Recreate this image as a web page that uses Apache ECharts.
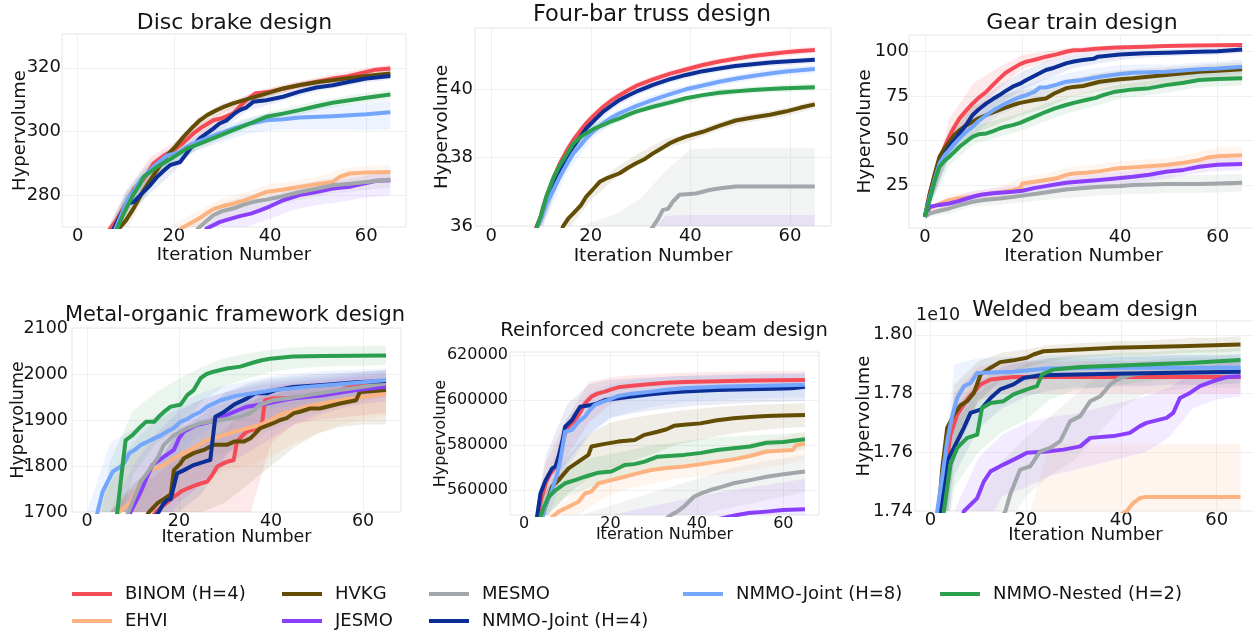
<!DOCTYPE html>
<html><head><meta charset="utf-8">
<script src="https://cdn.jsdelivr.net/npm/echarts@6/dist/echarts.min.js"></script>
<style>html,body{margin:0;padding:0;background:#fff}#c{width:1253px;height:638px}</style>
</head><body><div id="c"></div>
<script>
// ---------------- DATA ----------------
const methods = ['BINOM (H=4)', 'EHVI', 'HVKG', 'JESMO', 'MESMO', 'NMMO-Joint (H=4)', 'NMMO-Joint (H=8)', 'NMMO-Nested (H=2)'];
const titles = ['Disc brake design', 'Four-bar truss design', 'Gear train design', 'Metal-organic framework design', 'Reinforced concrete beam design', 'Welded beam design'];
const xTicks = [0, 20, 40, 60];
const yTicksDisc = [280, 300, 320];
const yTicksTruss = [36, 38, 40];
const yTicksGear = [25, 50, 75, 100];
const yTicksMof = [1700, 1800, 1900, 2000, 2100];
const yTicksRc = [560000, 580000, 600000, 620000];
const yTicksWeld = [1.74, 1.76, 1.78, 1.80];
const bandX = [0, 5, 10, 15, 20, 25, 30, 35, 40, 45, 50, 55, 60, 65];

// Disc brake
const disc_BINOM = [[0,225],[6.5,269],[8,272],[9.6,276.3],[11.7,282],[13.7,285],[15.8,290],[18,292.5],[20,294.1],[22,296.5],[24,299.3],[26,301.5],[28.2,303.5],[30,304.2],[32.3,305.6],[35,309.8],[37,312],[40,312.5],[43,313.5],[46,314.5],[50,315.7],[53,316.6],[56,317.3],[60,318.7],[62,319.4],[65,319.8]];
const disc_EHVI = [[0,200],[21.5,269.5],[23,270.8],[25.4,272.8],[27,274.5],[28.2,275.6],[30,276.5],[32.3,277.3],[34.5,278.3],[36.5,279.4],[39.2,281],[42.5,281.7],[46.1,282.6],[50,283.5],[53,284.1],[54.4,285.7],[56.5,286.8],[60,287.1],[65,287.3]];
const disc_HVKG = [[0,215],[8.6,269.5],[10,272],[11.7,276],[13.5,281],[15.1,284.7],[17,289],[18.6,292.5],[20.3,295.2],[22,298.3],[24,301.5],[25.4,303.5],[27,305.2],[28.9,306.7],[30.5,307.8],[32.3,308.8],[35.8,310.4],[39.2,311.9],[42.7,313.5],[46,314.5],[50,315.5],[53,316.1],[56.5,316.8],[60,317.4],[65,318.2]];
const disc_JESMO = [[0,190],[26.8,269.5],[29.6,271.6],[33.7,273.4],[36,274.2],[37.9,275.2],[40,276.5],[42.7,278.4],[46.1,280],[49.6,281],[53,282.1],[56.5,282.6],[58,283.2],[60,283.8],[62,284.5],[65,284.7]];
const disc_MESMO = [[0,195],[25,269.5],[26.5,271.5],[28.2,273.7],[30,275],[32.3,275.8],[34.5,277],[36.5,277.9],[39.2,278.6],[42.5,279.6],[46.1,281],[49.6,282],[53,283.1],[56.5,283.6],[60,284.1],[65,284.9]];
const disc_NJ4 = [[0,228],[7.5,269.5],[9,274],[10.3,277.3],[11.7,277.9],[13.7,281],[15,283],[16.5,285.7],[18,287.8],[19.2,289.4],[21.3,290.4],[23.4,294.6],[25.4,297.8],[28.2,300.9],[29.5,302.5],[31,303.5],[32.5,305.5],[33.7,306.7],[35,307.5],[36.5,309.3],[39.2,309.8],[42.7,310.9],[46.1,312.5],[49.6,313.8],[53,314.5],[56.5,315.6],[60,316.6],[65,317.4]];
const disc_NJ8 = [[0,228],[7.9,269.5],[9,273.5],[10.3,278.4],[11.5,281],[13,284.7],[14.5,287],[15.8,288.9],[17,290.5],[18.6,292.5],[20,293],[21.3,293.6],[22.5,295],[24,296.2],[26.8,297.8],[29.6,299.4],[32.3,300.9],[35.8,302.5],[39.2,303.5],[42.7,303.8],[46.1,304.4],[53,304.8],[60,305.4],[65,306]];
const disc_NN2 = [[0,230],[8.2,269.5],[9.5,274],[10.5,277],[11.7,280.5],[13,283.5],[13.7,285.7],[15,287.2],[16.5,288.9],[18.3,290.5],[20,292],[22.7,294.6],[25.4,296.2],[28.9,298.3],[32.3,300.4],[35.8,302.5],[39.2,304.6],[42.7,305.6],[46.1,306.7],[49.6,307.9],[53,309],[56.5,309.8],[60,310.6],[65,311.6]];
const disc_BINOM_lo = [220,258,273.5,286,291.5,298.5,302.7,308.3,311.2,313,314.6,316,317.5,318.6];
const disc_BINOM_hi = [230,266,280.5,292,296.5,302.5,306.3,311.3,313.8,315.4,317,318.4,319.9,321];
const disc_EHVI_lo = [195,226,241.5,253,265,269.4,274,276.4,279,280.2,281.4,283.8,284.8,285.1];
const disc_EHVI_hi = [205,234,248.5,259,271,275,279,281,283.4,284.6,285.8,288.2,289.2,289.5];
const disc_HVKG_lo = [210,246,269,282,292,300.7,305.8,308.7,311,313.3,314.6,315.7,316.4,317.2];
const disc_HVKG_hi = [220,254,275,287,296,304.3,308.8,311.3,313.4,315.3,316.6,317.7,318.4,319.2];
const disc_JESMO_lo = [185,211,228,243,253,261,267.8,269.9,272.6,275.5,276.9,278,279.2,280];
const disc_JESMO_hi = [195,219,236,251,261,268.5,274.8,276.9,279.4,282.1,283.6,284.8,286.1,287];
const disc_MESMO_lo = [190,218,236,248.5,258.5,266.5,271.8,274.6,276.3,278.1,279.7,280.8,281.6,282.4];
const disc_MESMO_hi = [200,226,244,255.5,265.5,272.5,277.4,279.8,281.3,283.1,284.7,285.8,286.6,287.4];
const disc_NJ4_lo = [223,256,273,280.5,287.3,295.4,300.6,306.2,308.5,310.7,312.7,314,315.4,316.2];
const disc_NJ4_hi = [233,264,280,286.5,292.3,299.4,304.6,309.8,311.5,313.3,315.1,316.4,317.8,318.6];
const disc_NJ8_lo = [223,256,274.5,284.8,290.6,294.2,296.6,299.2,300.4,300.6,300.6,300.5,300.4,300.5];
const disc_NJ8_hi = [233,264,281.5,290.8,295.6,298.7,301.6,304.2,305.8,306.6,307.6,308.3,308.9,309.8];
const disc_NN2_lo = [225,258,275,285,290,294.2,297.5,300.7,303.3,304.8,306.7,308,309.1,310.1];
const disc_NN2_hi = [235,266,281,290,294,297.8,300.5,303.7,306.3,307.8,309.7,311,312.1,313.1];

// Four-bar truss
const truss_BINOM = [[0,28],[9.1,35.98],[10,36.3],[11.1,36.86],[12.5,37.4],[13.8,37.83],[15,38.15],[16.5,38.51],[18,38.8],[19.1,39.0],[20.8,39.25],[22.5,39.48],[24,39.65],[25.8,39.82],[27.5,39.96],[29.1,40.09],[32.5,40.28],[35.8,40.44],[39.1,40.57],[42.5,40.7],[45.8,40.8],[49,40.88],[52.5,40.96],[56,41.02],[59.1,41.07],[62,41.11],[65,41.14]];
const truss_EHVI = [[0,28],[20,32],[40,34],[65,34.5]];
const truss_HVKG = [[0,28],[14.4,35.98],[15.5,36.22],[16.5,36.37],[18,36.6],[19.1,36.86],[20.5,37.08],[21.8,37.29],[23,37.38],[25.8,37.54],[27.5,37.7],[29.1,37.83],[30.8,37.95],[32.5,38.12],[34,38.25],[35.8,38.41],[37.5,38.52],[39.1,38.61],[42.5,38.75],[45.8,38.92],[49.1,39.08],[52.5,39.17],[56,39.25],[59.1,39.34],[62,39.45],[65,39.55]];
const truss_JESMO = [[0,28],[20,31],[40,33.5],[65,34.3]];
const truss_MESMO = [[0,30],[32.5,35.98],[33.5,36.2],[34.5,36.47],[35.5,36.5],[36.5,36.71],[37.8,36.91],[41.1,36.95],[42.5,37.0],[43.8,37.05],[46,37.1],[49.1,37.15],[65,37.15]];
const truss_NJ4 = [[0,28],[9.2,35.98],[10,36.25],[11.1,36.76],[12.5,37.25],[13.8,37.64],[15,37.98],[16.5,38.32],[18,38.62],[19.1,38.85],[20.8,39.1],[22.5,39.34],[24,39.5],[25.8,39.68],[27.5,39.81],[29.1,39.92],[32.5,40.12],[35.8,40.28],[39.1,40.41],[42.5,40.52],[45.8,40.6],[49,40.67],[52.5,40.72],[56,40.77],[59.1,40.8],[65,40.85]];
const truss_NJ8 = [[0,28],[9.3,35.98],[10,36.2],[11.1,36.66],[12.5,37.05],[13.8,37.44],[15,37.75],[16.5,38.12],[18,38.37],[19.1,38.56],[20.8,38.8],[22.5,39.0],[24,39.15],[25.8,39.29],[27.5,39.4],[29.1,39.5],[32.5,39.68],[35.8,39.84],[39.1,39.99],[42.5,40.1],[45.8,40.21],[49,40.3],[52.5,40.38],[56,40.45],[59.1,40.51],[65,40.58]];
const truss_NN2 = [[0,28],[9.2,35.98],[10,36.3],[11.1,36.86],[12.5,37.4],[13.8,37.78],[15,38.05],[16.5,38.41],[18,38.6],[19.1,38.71],[20.8,38.85],[22.5,38.95],[24,39.05],[25.8,39.14],[27.5,39.25],[29.1,39.34],[32.5,39.48],[35.8,39.6],[39.1,39.73],[42.5,39.82],[45.8,39.89],[49,39.93],[52.5,39.97],[56,40.0],[59.1,40.02],[65,40.05]];
const truss_BINOM_lo = [27.5,31.5,35.95,37.95,38.97,39.63,40.04,40.3,40.5,40.68,40.8,40.9,40.98,41.04];
const truss_BINOM_hi = [28.5,32.5,36.65,38.35,39.27,39.87,40.24,40.5,40.7,40.88,41.0,41.1,41.18,41.24];
const truss_EHVI_lo = [24,26,28,29,30,31,32,32.5,33,33,33,33,33,33];
const truss_EHVI_hi = [28,30,32,33,34,35,35.5,35.8,35.9,35.9,35.9,35.9,35.9,35.9];
const truss_HVKG_lo = [27.5,29.5,32.5,35.8,36.75,37.4,37.85,38.25,38.48,38.76,38.98,39.1,39.23,39.43];
const truss_HVKG_hi = [28.5,30.5,33.5,36.2,37.05,37.7,38.15,38.55,38.72,39.0,39.22,39.34,39.47,39.67];
const truss_JESMO_lo = [24,26,28,29,30,31,32,32.5,33,33,33,33,33,33];
const truss_JESMO_hi = [28,30,32,33,34,34.8,35.5,36.3,36.32,36.32,36.32,36.32,36.32,36.32];
const truss_MESMO_lo = [26,28,30,31,32,33,34,34.5,35,35.5,35.5,35.5,35.5,35.5];
const truss_MESMO_hi = [30,33,35,35.8,36.1,36.35,36.8,37.6,38.25,38.27,38.27,38.27,38.27,38.27];
const truss_NJ4_lo = [27.5,31.5,35.9,37.78,38.82,39.48,39.87,40.14,40.34,40.48,40.58,40.66,40.7,40.75];
const truss_NJ4_hi = [28.5,32.5,36.6,38.18,39.12,39.72,40.07,40.34,40.54,40.68,40.78,40.86,40.9,40.95];
const truss_NJ8_lo = [27.5,31.5,35.85,37.5,38.5,39.07,39.4,39.65,39.89,40.06,40.2,40.32,40.4,40.46];
const truss_NJ8_hi = [28.5,32.5,36.55,38.0,38.9,39.37,39.7,39.95,40.13,40.3,40.44,40.56,40.64,40.7];
const truss_NN2_lo = [27.5,31.5,35.95,37.85,38.67,38.99,39.29,39.49,39.62,39.77,39.84,39.9,39.92,39.95];
const truss_NN2_hi = [28.5,32.5,36.65,38.25,38.97,39.23,39.49,39.69,39.82,39.97,40.04,40.1,40.12,40.15];

// Gear train
const gear_BINOM = [[0,7.1],[1,20.3],[2,30],[3,39],[4,46],[5,52.2],[6,57.5],[7.1,62.5],[8.5,67],[9.8,70.9],[11,74],[12.6,77.5],[14,81.5],[15.3,85],[16.5,88],[18,90.6],[19.5,93],[20.8,94.4],[22.5,95.5],[24.8,97.2],[27,98.5],[28.9,100],[30.5,100.8],[32.4,100.9],[35,101.6],[39.2,102.3],[45,102.8],[49.4,103.2],[55,103.5],[60,103.7],[65,103.8]];
const gear_EHVI = [[0,7.1],[1,11.8],[3,14.5],[5,16.5],[7,17.5],[9.8,18.4],[11.5,19.5],[13.9,20.3],[16,21.2],[18,22.1],[19.5,23],[20,25.9],[22.5,26.8],[24.8,27.8],[27,28.8],[28.9,30.6],[30.5,31.5],[33,31.9],[36,32.8],[39.2,34.3],[43,35],[46,35.5],[49.4,36.2],[53,37.5],[56.2,39],[58,40.5],[60,41.2],[65,41.8]];
const gear_HVKG = [[0,7.1],[1,20],[2,31],[3,40.9],[4,45.5],[5,49.3],[6,53],[7.1,55.9],[8.5,58.5],[9.8,60.6],[11,62.5],[12.6,64.4],[14,65.8],[15.3,67.2],[16.5,68.5],[18,70],[19.5,71.2],[20.8,71.9],[22.5,72.8],[24.8,73.7],[26.5,76.5],[28.9,79.4],[30.5,80.2],[32.4,80.7],[35.8,83.1],[40,84.5],[42.6,85],[49.4,86.9],[56.2,88.7],[60,89.3],[65,90.1]];
const gear_JESMO = [[0,7.1],[1,12.8],[3,13.8],[5,14.6],[7,16],[9.8,18.4],[11.5,19.5],[13.9,20.3],[16,20.8],[18,21.2],[20,21.8],[22.1,23.1],[25,24.5],[28.9,26.3],[32,27],[35.8,27.8],[39,28.6],[42.6,29.6],[46,30.8],[49.4,32.5],[53,33.5],[56.2,35.3],[60,36.4],[65,36.8]];
const gear_MESMO = [[0,7.1],[1,9],[3,10.5],[5,11.8],[7,13.5],[9.8,15.6],[12,16.5],[15.3,17.4],[18,18.3],[20.8,19.3],[24,20.5],[28.9,22.5],[32,23.2],[35.8,24],[40,24.5],[42.6,25],[49.4,25.5],[56.2,25.5],[60,25.8],[65,26.3]];
const gear_NJ4 = [[0,7.1],[1,18],[2,28],[3,37.1],[4,42],[5,46.5],[6,50],[7.1,54],[8.5,59],[9.8,64.4],[11,67.5],[12.6,70.9],[14,73.5],[15.3,75.6],[16.5,77.8],[18,80.3],[19.5,82],[20.8,84.1],[22.5,86.5],[24.8,89.7],[26.5,91],[28.9,93.4],[30.5,94.5],[32.4,95.3],[34.5,96],[35.5,97.2],[40,98.4],[45,99.1],[49.4,99.4],[56,100],[60,100.2],[65,101.3]];
const gear_NJ8 = [[0,7.1],[1,18],[2,28],[3,37.1],[4,41.5],[5,44.7],[6,48],[7.1,51.2],[8.5,55],[9.8,57.8],[11,61],[12.6,64.4],[14,67],[15.3,69],[16.5,70.8],[18,72.8],[19.5,74.5],[20.8,75.6],[22.5,77.5],[23.5,79.9],[25,80],[27,81.5],[28.9,83.1],[32,84],[35.8,85.9],[40,87.5],[42.6,88.2],[49.4,88.7],[56.2,90.1],[60,90.5],[65,91.6]];
const gear_NN2 = [[0,7.1],[1,17],[2,27],[3,35.3],[4,38.5],[5,40.9],[6,43.5],[7.1,46.5],[8.5,49.5],[9.8,52.2],[11,53.5],[12.6,54],[14,55.3],[15.3,56.8],[16.5,57.8],[18,58.7],[19.5,60],[20.8,61.5],[22.5,63.5],[24.8,66.2],[26.5,68],[28.9,70],[30.5,71.2],[33,72.8],[35,74],[36.5,75.6],[39,77.5],[42.6,78.8],[46,79.5],[49.4,81.2],[53,82.5],[56.2,84.1],[60,84.6],[65,85]];
const gear_BINOM_lo = [6.6,44.2,64.5,79,90.2,94.3,98.3,100.1,101.1,101.8,102.2,102.5,102.7,102.8];
const gear_BINOM_hi = [7.6,62.2,82.5,91,98.2,100.3,102.3,103.1,103.5,103.8,104.2,104.5,104.7,104.8];
const gear_EHVI_lo = [6.6,13.5,15.5,17.8,22.4,24.5,27.2,28.6,30.4,31.4,32.2,34,36.2,36.8];
const gear_EHVI_hi = [7.6,19.5,21.5,23.8,29.4,31.5,35.2,36.6,38.4,39.4,40.2,43,46.2,46.8];
const gear_HVKG_lo = [6.6,42.3,53.5,59.2,64.5,68.5,74.8,77.8,79.5,80.5,82.4,84.3,85.3,86.1];
const gear_HVKG_hi = [7.6,56.3,69.5,75.2,78.5,80.5,84.8,87.8,89.5,90.5,91.4,92.3,93.3,94.1];
const gear_JESMO_lo = [6.6,11.6,15.6,17.7,18.8,21.5,23.6,24.3,25.4,27,29,31.3,32.9,33.3];
const gear_JESMO_hi = [7.6,17.6,21.6,23.7,24.8,27.5,29.6,31.3,32.4,34,36,38.3,39.9,40.3];
const gear_MESMO_lo = [6.6,8.8,13,13.7,15.3,16.7,17.8,19,19.6,20.1,20.5,20.5,20.8,21.3];
const gear_MESMO_hi = [7.6,14.8,19,21.7,23.3,24.7,27.8,29,29.6,30.1,30.5,30.5,30.8,31.3];
const gear_NJ4_lo = [6.6,41.5,61,70.6,78.8,84.7,90.2,93.1,95.4,96.6,97.4,98,98.2,99.3];
const gear_NJ4_hi = [7.6,51.5,71,80.6,88.8,94.7,98.2,100.1,101.4,101.6,101.4,102,102.2,103.3];
const gear_NJ8_lo = [6.6,39.7,53.5,64,70.4,75,78.5,80.9,82.5,83.9,84.7,85.7,86.5,87.6];
const gear_NJ8_hi = [7.6,49.7,63.5,74,80.4,85,88.5,90.9,92.5,92.9,92.7,93.7,94.5,95.6];
const gear_NN2_lo = [6.6,35.9,48,51.8,55.8,61.3,66,69.5,73.6,75.2,77.2,79.5,80.6,81];
const gear_NN2_hi = [7.6,45.9,58,61.8,65.8,71.3,75,78.5,81.6,83.2,85.2,87.5,88.6,89];

// Metal-organic framework
const mof_BINOM = [[0,1500],[15,1700],[16.7,1715],[18.9,1733],[20.5,1745],[21.8,1751],[23.5,1758],[24.7,1762],[26.1,1766],[27.2,1780],[28.3,1799],[29.5,1805],[30.4,1809],[31.9,1813],[32.6,1853],[34,1868],[34.8,1875],[36.9,1882],[38,1889],[38.7,1943],[40.5,1947],[44,1948],[47.7,1951],[51,1955],[55,1965],[58.5,1976],[65,1980]];
const mof_EHVI = [[0,1550],[7,1700],[9.5,1722],[11.7,1766],[13.8,1791],[16.7,1802],[18.9,1817],[22.5,1835],[26.1,1856],[29.7,1867],[33.3,1878],[37.6,1889],[40,1900],[41.9,1911],[47.7,1929],[55,1943],[60,1950],[65,1958]];
const mof_HVKG = [[0,1500],[13.5,1700],[15.3,1719],[17.4,1733],[18.2,1738],[18.9,1791],[20.3,1805],[21.1,1817],[23.2,1828],[25.4,1835],[27.5,1846],[30.4,1846],[32,1853],[34,1853],[35.5,1860],[36.5,1870],[37.6,1882],[40.5,1893],[42,1900],[43.4,1904],[45,1915],[46.3,1918],[48.5,1925],[50.6,1925],[55,1936],[58.5,1943],[59.3,1961],[65,1965]];
const mof_JESMO = [[0,1500],[9.5,1700],[11.7,1744],[13,1775],[14.2,1802],[16.7,1820],[18.9,1835],[20,1860],[21.1,1875],[23.9,1889],[26.8,1896],[30.4,1911],[32.5,1920],[34.8,1929],[39.1,1936],[44.1,1946],[51.3,1954],[58.5,1965],[65,1972]];
const mof_MESMO = [[0,1500],[9,1700],[11.7,1766],[13.8,1795],[15.5,1820],[16.7,1846],[18.9,1867],[21.8,1882],[24.7,1893],[29,1900],[33.3,1907],[35.5,1915],[37.6,1933],[40.5,1943],[44,1948],[47.7,1954],[55,1965],[60,1972],[65,1980]];
const mof_NJ4 = [[0,1500],[15.6,1700],[16.5,1716],[17.4,1726],[18.2,1728],[19.6,1784],[21.1,1791],[23.2,1802],[26.1,1811],[26.8,1813],[27.9,1907],[29.7,1917],[31.9,1933],[33.3,1940],[34.8,1947],[36.6,1958],[39.1,1958],[41,1965],[44.8,1972],[51.3,1976],[58.5,1982],[65,1985]];
const mof_NJ8 = [[0,1600],[2.3,1700],[3.4,1744],[4.5,1766],[5.6,1788],[7.4,1799],[8.3,1810],[9.2,1828],[10.5,1836],[11.7,1846],[13,1852],[14.6,1860],[16,1866],[17.4,1875],[18.8,1882],[20.3,1896],[21.8,1902],[23.2,1911],[24.7,1918],[26.1,1929],[29,1943],[32.6,1953],[36.2,1958],[40.5,1965],[44,1968],[47.7,1972],[55,1978],[60,1982],[65,1987]];
const mof_NN2 = [[0,1400],[6.6,1700],[7.5,1780],[8.4,1856],[9.9,1867],[11.3,1882],[12.8,1896],[14.6,1896],[16,1911],[17,1920],[18.2,1929],[20.3,1933],[21.8,1954],[23.2,1965],[24.7,1991],[26,2000],[27.5,2005],[30.4,2012],[33.3,2016],[36.2,2025],[38,2030],[39.8,2033],[44.8,2038],[51.3,2039],[65,2040]];
const mof_BINOM_lo = [1400,1500,1550,1600,1620,1640,1660,1680,1850,1890,1900,1905,1910,1915];
const mof_BINOM_hi = [1600,1700,1750,1780,1820,1850,1880,1930,1975,1980,1985,1990,1995,2000];
const mof_EHVI_lo = [1400,1550,1650,1700,1740,1770,1790,1800,1820,1850,1870,1890,1900,1910];
const mof_EHVI_hi = [1650,1760,1830,1870,1900,1920,1935,1950,1960,1970,1975,1980,1985,1990];
const mof_HVKG_lo = [1400,1500,1550,1600,1650,1700,1720,1760,1800,1840,1870,1885,1890,1890];
const mof_HVKG_hi = [1600,1700,1760,1800,1880,1900,1920,1940,1955,1965,1970,1975,1980,1985];
const mof_JESMO_lo = [1400,1500,1600,1650,1720,1760,1800,1830,1860,1890,1910,1925,1935,1940];
const mof_JESMO_hi = [1600,1700,1800,1870,1920,1945,1960,1970,1980,1985,1990,1995,2000,2005];
const mof_MESMO_lo = [1400,1550,1650,1720,1780,1810,1830,1850,1880,1900,1915,1930,1940,1950];
const mof_MESMO_hi = [1650,1780,1850,1900,1925,1945,1960,1975,1985,1990,1995,2000,2005,2010];
const mof_NJ4_lo = [1400,1500,1550,1600,1700,1740,1820,1870,1900,1920,1935,1945,1950,1955];
const mof_NJ4_hi = [1600,1700,1760,1800,1880,1910,1960,1980,1990,1995,2000,2002,2005,2008];
const mof_NJ8_lo = [1500,1700,1760,1790,1830,1870,1900,1915,1925,1935,1942,1950,1955,1960];
const mof_NJ8_hi = [1700,1850,1880,1910,1935,1960,1975,1985,1995,2000,2005,2008,2010,2012];
const mof_NN2_lo = [1300,1600,1780,1850,1880,1940,1975,1990,2005,2012,2015,2018,2018,2020];
const mof_NN2_hi = [1500,1810,1920,1960,1990,2015,2035,2045,2052,2058,2060,2060,2061,2062];

// Reinforced concrete beam
const rc_BINOM = [[0,500000],[3.1,548000],[4,556000],[5,563000],[6,567000],[7.3,570400],[8.5,578000],[9.5,585200],[10.5,588500],[11.8,591100],[13,594500],[14.1,598500],[15.6,601500],[17,602800],[18.7,603700],[20,604600],[21.8,605600],[25,606300],[29.4,607100],[33,607600],[37,608000],[45,608300],[52.3,608600],[58,608800],[65,608900]];
const rc_EHVI = [[0,500000],[6.5,548000],[8,550400],[10.3,552600],[12.6,554800],[14.1,558500],[15.6,559300],[17.2,563000],[20.2,564400],[23.3,565900],[26,567300],[29.4,568900],[33,569800],[37,570400],[41,571500],[44.7,572600],[48.5,573600],[52.3,575100],[56.1,577100],[60,577500],[62.2,577800],[63,580000],[65,580500]];
const rc_HVKG = [[0,500000],[4.2,548000],[5,553000],[6.5,561500],[8,564400],[10.3,569600],[12.6,572600],[14.9,575600],[15.6,579300],[18.7,580500],[21.8,581500],[25.6,582200],[27.9,584500],[30.9,585900],[33,587000],[34.7,588500],[37,589000],[40.8,589600],[44.7,591000],[48.5,591900],[52.3,592400],[56.1,592900],[60,593100],[65,593300]];
const rc_JESMO = [[0,500000],[40,545000],[49,548800],[52,549800],[56.1,550400],[59.9,551100],[65,551400]];
const rc_MESMO = [[0,500000],[34,548900],[35.5,550500],[37,552600],[39.3,557000],[41,558500],[43.1,560000],[45.5,561300],[48.5,563000],[52.3,564400],[56.1,565900],[60,567000],[65,568200]];
const rc_NJ4 = [[0,500000],[3.0,548000],[3.8,558500],[5,564400],[6.5,569600],[7.3,570500],[8,574800],[9,583000],[9.5,588100],[11.1,591100],[12,594000],[13,597000],[15.6,597800],[17,598500],[18.7,600000],[21.8,600700],[25,601500],[29.4,602500],[33,603200],[37,603700],[44.7,604400],[52.3,604700],[58,605000],[62,605200],[65,605900]];
const rc_NJ8 = [[0,500000],[4.2,548000],[5,553000],[6.5,560000],[7.5,566000],[8.4,573300],[9.5,585900],[11.1,586700],[12.6,590400],[14.1,592600],[15,595000],[16.4,597800],[18,599000],[19.5,600000],[21.8,601800],[25,602800],[29.4,603700],[33,604500],[37,605200],[44.7,605900],[52.3,606200],[58,606400],[65,606700]];
const rc_NN2 = [[0,500000],[3.8,548000],[4.5,552000],[5.7,557000],[7.3,560000],[9.5,563000],[11.8,564400],[14.1,565900],[17.2,567700],[20.2,568200],[23.3,571100],[25.5,571500],[27.9,572600],[30.9,574800],[37,575600],[41,576500],[44.7,577800],[48.5,578500],[52.3,579300],[56.1,581000],[60,581300],[65,582500]];
const rc_BINOM_lo = [480000,555000,575000,590000,598000,601000,602500,603500,604000,604300,604500,604700,604800,604900];
const rc_BINOM_hi = [520000,572000,592000,608000,610000,611000,611500,612000,612200,612400,612600,612700,612800,612900];
const rc_EHVI_lo = [470000,535000,545000,552000,558000,561000,563000,565000,566000,567000,568000,570000,571000,574000];
const rc_EHVI_hi = [510000,548000,556000,565000,571000,573000,575000,576000,577000,578500,580000,582000,583500,586000];
const rc_HVKG_lo = [480000,548000,558000,565000,570000,573000,576000,580000,582000,584000,585500,586500,587500,588000];
const rc_HVKG_hi = [520000,560000,575000,585000,590000,592000,593500,595000,596000,597000,597500,598000,598200,598500];
const rc_JESMO_lo = [460000,490000,500000,510000,515000,520000,525000,530000,533000,536000,539000,541000,543000,545000];
const rc_JESMO_hi = [500000,530000,540000,545000,548500,551000,553000,555000,557000,559000,560500,562000,563500,565000];
const rc_MESMO_lo = [460000,500000,520000,530000,535000,540000,543000,545000,548000,551000,553000,555000,557000,559000];
const rc_MESMO_hi = [500000,530000,545000,550000,553000,556000,559000,562000,565000,568000,570500,572500,574000,575500];
const rc_NJ4_lo = [480000,553000,572000,585000,592000,594000,595500,596500,597500,598000,598500,599000,599200,599500];
const rc_NJ4_hi = [520000,575000,598000,607000,609000,609500,610000,610500,610800,611000,611200,611400,611500,611800];
const rc_NJ8_lo = [480000,545000,570000,584000,592000,595000,597000,598500,599500,600000,600500,600800,601000,601200];
const rc_NJ8_hi = [520000,565000,592000,603000,607000,609000,610000,610500,611000,611300,611500,611700,611800,612000];
const rc_NN2_lo = [480000,548000,557000,561000,563500,566000,569000,571000,572000,573500,574500,576000,577000,578000];
const rc_NN2_hi = [520000,560000,570000,574000,576000,578000,580000,581000,582500,583500,584000,584500,585000,585500];

// Welded beam (x 1e10)
const weld_BINOM = [[0,1.70],[2.4,1.7399],[3.2,1.755],[4.2,1.766],[5.6,1.7728],[7.7,1.778],[10.5,1.7831],[12.6,1.7848],[17.4,1.7856],[65,1.7856]];
const weld_EHVI = [[0,1.70],[41.1,1.7399],[42.5,1.7427],[43.9,1.7444],[45.3,1.7448],[65,1.7448]];
const weld_HVKG = [[0,1.70],[1.7,1.7399],[2.5,1.755],[3.5,1.7683],[4.9,1.7728],[6.3,1.776],[7.7,1.7774],[9.1,1.7802],[10.5,1.7865],[12.6,1.7888],[14.6,1.7907],[17.4,1.7913],[20.2,1.7922],[21.6,1.7933],[23.7,1.7944],[31.4,1.795],[38.4,1.7956],[52.3,1.7961],[65,1.7967]];
const weld_JESMO = [[0,1.70],[7,1.7399],[9.8,1.7444],[11.2,1.7501],[12.6,1.7535],[15.3,1.7558],[18.8,1.7586],[20.2,1.7598],[24.4,1.7603],[27.9,1.7609],[31.4,1.762],[33.5,1.7649],[38.4,1.7655],[41.8,1.7666],[43.9,1.7689],[45.3,1.77],[49.5,1.7717],[50.9,1.7734],[52.3,1.7785],[54.4,1.7802],[56.5,1.7825],[59.3,1.7842],[62.1,1.7856],[65,1.7859]];
const weld_MESMO = [[0,1.70],[15.7,1.7399],[16.7,1.7456],[18.8,1.7541],[20.9,1.7552],[23,1.7603],[25.1,1.7615],[27.2,1.7638],[29.3,1.7706],[31.4,1.7723],[33.5,1.7774],[35.6,1.7791],[37.7,1.7831],[39.7,1.7853],[42.5,1.7865],[45.3,1.787],[65,1.7876]];
const weld_NJ4 = [[0,1.70],[2.1,1.7399],[3.5,1.757],[4.9,1.7615],[7,1.7683],[8.4,1.7734],[10.5,1.7745],[12.6,1.7785],[14.6,1.7814],[17.4,1.7831],[19.5,1.7853],[23,1.7862],[38.4,1.7867],[65,1.7874]];
const weld_NJ8 = [[0,1.70],[1.4,1.7399],[2.5,1.752],[3.5,1.7638],[4.5,1.772],[5.6,1.7785],[7,1.7825],[8.4,1.7836],[9.8,1.787],[17.4,1.7874],[24.4,1.7885],[38.4,1.7888],[65,1.7888]];
const weld_NN2 = [[0,1.70],[2.8,1.7399],[4.2,1.7558],[5.6,1.7615],[7.7,1.7649],[9.8,1.766],[10.8,1.7751],[12.6,1.7768],[15.3,1.7774],[17.4,1.7797],[20.2,1.7814],[22.3,1.7825],[23.4,1.7865],[25.8,1.7882],[31.4,1.789],[45.3,1.7899],[55,1.7905],[65,1.7914]];
const weld_BINOM_lo = [1.69,1.757,1.778,1.780,1.780,1.780,1.780,1.780,1.780,1.780,1.780,1.780,1.780,1.780];
const weld_BINOM_hi = [1.71,1.780,1.789,1.7905,1.791,1.791,1.791,1.791,1.791,1.791,1.791,1.791,1.791,1.791];
const weld_EHVI_lo = [1.68,1.69,1.70,1.71,1.72,1.72,1.72,1.72,1.72,1.72,1.72,1.72,1.72,1.72];
const weld_EHVI_hi = [1.70,1.71,1.72,1.73,1.735,1.763,1.763,1.763,1.763,1.763,1.763,1.763,1.763,1.763];
const weld_HVKG_lo = [1.69,1.762,1.777,1.785,1.789,1.791,1.792,1.7925,1.793,1.793,1.7935,1.794,1.794,1.7945];
const weld_HVKG_hi = [1.71,1.783,1.791,1.794,1.795,1.7965,1.797,1.7975,1.798,1.798,1.7985,1.799,1.799,1.7995];
const weld_JESMO_lo = [1.68,1.70,1.730,1.745,1.748,1.752,1.754,1.756,1.758,1.760,1.765,1.775,1.778,1.779];
const weld_JESMO_hi = [1.70,1.74,1.758,1.766,1.770,1.772,1.773,1.775,1.777,1.779,1.782,1.787,1.790,1.791];
const weld_MESMO_lo = [1.68,1.70,1.72,1.732,1.745,1.752,1.757,1.766,1.775,1.780,1.781,1.782,1.782,1.782];
const weld_MESMO_hi = [1.70,1.73,1.745,1.757,1.765,1.772,1.779,1.786,1.790,1.791,1.792,1.792,1.792,1.792];
const weld_NJ4_lo = [1.69,1.752,1.768,1.775,1.779,1.781,1.782,1.782,1.7825,1.7825,1.783,1.783,1.783,1.7835];
const weld_NJ4_hi = [1.71,1.775,1.784,1.789,1.791,1.792,1.792,1.792,1.7925,1.7925,1.793,1.793,1.793,1.7935];
const weld_NJ8_lo = [1.69,1.758,1.780,1.783,1.784,1.785,1.785,1.785,1.785,1.785,1.785,1.785,1.785,1.785];
const weld_NJ8_hi = [1.71,1.790,1.792,1.7925,1.7925,1.793,1.793,1.793,1.793,1.793,1.793,1.793,1.793,1.793];
const weld_NN2_lo = [1.69,1.748,1.760,1.767,1.771,1.778,1.781,1.782,1.783,1.784,1.785,1.785,1.786,1.786];
const weld_NN2_hi = [1.71,1.770,1.780,1.786,1.790,1.792,1.793,1.7935,1.794,1.794,1.7945,1.795,1.795,1.7955];

// ---------------- STYLE / LAYOUT ----------------
const FONT = 'DejaVu Sans';
const TXT = '#141414';
const colors = ['#f44b56', '#fdb381', '#634d04', '#8a3ffc', '#a2a7ac', '#0b2f96', '#73a6fc', '#2a9f4d'];
const bandColors = ['rgba(244,75,86,0.12)', 'rgba(253,179,129,0.13)', 'rgba(99,77,4,0.10)', 'rgba(138,63,252,0.10)', 'rgba(162,167,172,0.14)', 'rgba(11,47,150,0.09)', 'rgba(115,166,252,0.13)', 'rgba(42,159,77,0.10)'];

const panels = [
  { lines: [disc_BINOM, disc_EHVI, disc_HVKG, disc_JESMO, disc_MESMO, disc_NJ4, disc_NJ8, disc_NN2],
    lo: [disc_BINOM_lo, disc_EHVI_lo, disc_HVKG_lo, disc_JESMO_lo, disc_MESMO_lo, disc_NJ4_lo, disc_NJ8_lo, disc_NN2_lo],
    hi: [disc_BINOM_hi, disc_EHVI_hi, disc_HVKG_hi, disc_JESMO_hi, disc_MESMO_hi, disc_NJ4_hi, disc_NJ8_hi, disc_NN2_hi],
    yMin: 270, yMax: 330.6, yTicks: yTicksDisc },
  { lines: [truss_BINOM, truss_EHVI, truss_HVKG, truss_JESMO, truss_MESMO, truss_NJ4, truss_NJ8, truss_NN2],
    lo: [truss_BINOM_lo, truss_EHVI_lo, truss_HVKG_lo, truss_JESMO_lo, truss_MESMO_lo, truss_NJ4_lo, truss_NJ8_lo, truss_NN2_lo],
    hi: [truss_BINOM_hi, truss_EHVI_hi, truss_HVKG_hi, truss_JESMO_hi, truss_MESMO_hi, truss_NJ4_hi, truss_NJ8_hi, truss_NN2_hi],
    yMin: 36, yMax: 41.78, yTicks: yTicksTruss },
  { lines: [gear_BINOM, gear_EHVI, gear_HVKG, gear_JESMO, gear_MESMO, gear_NJ4, gear_NJ8, gear_NN2],
    lo: [gear_BINOM_lo, gear_EHVI_lo, gear_HVKG_lo, gear_JESMO_lo, gear_MESMO_lo, gear_NJ4_lo, gear_NJ8_lo, gear_NN2_lo],
    hi: [gear_BINOM_hi, gear_EHVI_hi, gear_HVKG_hi, gear_JESMO_hi, gear_MESMO_hi, gear_NJ4_hi, gear_NJ8_hi, gear_NN2_hi],
    yMin: 0.8, yMax: 109.4, yTicks: yTicksGear },
  { lines: [mof_BINOM, mof_EHVI, mof_HVKG, mof_JESMO, mof_MESMO, mof_NJ4, mof_NJ8, mof_NN2],
    lo: [mof_BINOM_lo, mof_EHVI_lo, mof_HVKG_lo, mof_JESMO_lo, mof_MESMO_lo, mof_NJ4_lo, mof_NJ8_lo, mof_NN2_lo],
    hi: [mof_BINOM_hi, mof_EHVI_hi, mof_HVKG_hi, mof_JESMO_hi, mof_MESMO_hi, mof_NJ4_hi, mof_NJ8_hi, mof_NN2_hi],
    yMin: 1700, yMax: 2100, yTicks: yTicksMof },
  { lines: [rc_BINOM, rc_EHVI, rc_HVKG, rc_JESMO, rc_MESMO, rc_NJ4, rc_NJ8, rc_NN2],
    lo: [rc_BINOM_lo, rc_EHVI_lo, rc_HVKG_lo, rc_JESMO_lo, rc_MESMO_lo, rc_NJ4_lo, rc_NJ8_lo, rc_NN2_lo],
    hi: [rc_BINOM_hi, rc_EHVI_hi, rc_HVKG_hi, rc_JESMO_hi, rc_MESMO_hi, rc_NJ4_hi, rc_NJ8_hi, rc_NN2_hi],
    yMin: 548900, yMax: 621300, yTicks: yTicksRc },
  { lines: [weld_BINOM, weld_EHVI, weld_HVKG, weld_JESMO, weld_MESMO, weld_NJ4, weld_NJ8, weld_NN2],
    lo: [weld_BINOM_lo, weld_EHVI_lo, weld_HVKG_lo, weld_JESMO_lo, weld_MESMO_lo, weld_NJ4_lo, weld_NJ8_lo, weld_NN2_lo],
    hi: [weld_BINOM_hi, weld_EHVI_hi, weld_HVKG_hi, weld_JESMO_hi, weld_MESMO_hi, weld_NJ4_hi, weld_NJ8_hi, weld_NN2_hi],
    yMin: 1.74, yMax: 1.8047, yTicks: yTicksWeld }
];

// layout: grid rect, font sizes, gaps
const layout = [
  { left: 62,  top: 34,  width: 344, height: 193, fs: 18,   nfs: 18,   yGap: 33, xGap: 19, yMargin: 1, xMargin: 0 },
  { left: 475, top: 28,  width: 356, height: 198, fs: 18,   nfs: 18.5, yGap: 23, xGap: 21, yMargin: 2, xMargin: 1 },
  { left: 909, top: 35,  width: 349, height: 193, fs: 18,   nfs: 18.5, yGap: 34, xGap: 19, yMargin: 0, xMargin: 0 },
  { left: 72,  top: 328, width: 329, height: 184, fs: 17.5, nfs: 17.5, yGap: 45, xGap: 16, yMargin: 4, xMargin: 0 },
  { left: 510, top: 352, width: 309, height: 163, fs: 16,   nfs: 16,   yGap: 61, xGap: 12, yMargin: 2, xMargin: 1 },
  { left: 915, top: 321, width: 341, height: 190, fs: 18,   nfs: 18,   yGap: 42, xGap: 15, yMargin: 2, xMargin: 0 }
];
const titleLayout = [
  { x: 234.5, y: 23,  fs: 22 },
  { x: 652,   y: 15,  fs: 22.5 },
  { x: 1082,  y: 23,  fs: 22 },
  { x: 235,   y: 316, fs: 21 },
  { x: 664,   y: 331, fs: 19.5 },
  { x: 1085,  y: 310, fs: 21.5 }
];
const legendPos = [[72, 595], [72, 622], [282, 595], [282, 622], [429, 595], [429, 622], [683, 595], [940, 595]];

// ---------------- BUILD ----------------
const grids = [], xAxes = [], yAxes = [], series = [];
panels.forEach((p, gi) => {
  const L = layout[gi];
  grids.push({ left: L.left, top: L.top, width: L.width, height: L.height, show: true,
    borderColor: '#e6e6e6', borderWidth: 1, backgroundColor: 'transparent', containLabel: false, outerBoundsMode: 'none' });
  xAxes.push({ type: 'value', gridIndex: gi, min: -3.25, max: 68.25,
    axisLine: { show: false }, axisTick: { show: false, customValues: xTicks },
    axisLabel: { customValues: xTicks, fontSize: L.fs, fontFamily: FONT, color: TXT, margin: L.xMargin },
    splitLine: { show: true, lineStyle: { color: '#f0f0f0', width: 1 } },
    name: 'Iteration Number', nameLocation: 'middle', nameGap: L.xGap, nameMoveOverlap: false,
    nameTextStyle: { fontSize: L.nfs, fontFamily: FONT, color: TXT, verticalAlign: 'top' } });
  yAxes.push({ type: 'value', gridIndex: gi, min: p.yMin, max: p.yMax,
    axisLine: { show: false }, axisTick: { show: false, customValues: p.yTicks },
    axisLabel: { customValues: p.yTicks, fontSize: L.fs, fontFamily: FONT, color: TXT, margin: L.yMargin,
      formatter: gi === 5 ? (v) => v.toFixed(2) : (v) => String(v) },
    splitLine: { show: true, lineStyle: { color: '#f0f0f0', width: 1 } },
    name: 'Hypervolume', nameLocation: 'middle', nameGap: L.yGap, nameMoveOverlap: false,
    nameTextStyle: { fontSize: L.nfs, fontFamily: FONT, color: TXT } });
  methods.forEach((m, mi) => {
    const lo = p.lo[mi], hi = p.hi[mi];
    series.push({ type: 'custom', xAxisIndex: gi, yAxisIndex: gi, silent: true, z: 1, clip: true,
      data: [[bandX[0], lo[0]]],
      renderItem: function (params, api) {
        const pts = [];
        for (let i = 0; i < bandX.length; i++) pts.push(api.coord([bandX[i], hi[i]]));
        for (let i = bandX.length - 1; i >= 0; i--) pts.push(api.coord([bandX[i], lo[i]]));
        const cs = params.coordSys;
        return { type: 'polygon', shape: { points: pts }, style: { fill: bandColors[mi] },
          clipPath: { type: 'rect', shape: { x: cs.x, y: cs.y, width: cs.width, height: cs.height } } };
      } });
  });
  methods.forEach((m, mi) => {
    series.push({ type: 'line', name: m, xAxisIndex: gi, yAxisIndex: gi, data: p.lines[mi],
      showSymbol: false, symbol: 'none', clip: true, silent: true, z: 2,
      lineStyle: { width: 4, color: colors[mi], join: 'round' }, itemStyle: { color: colors[mi] } });
  });
});

const graphics = titles.map((t, i) => ({ type: 'text', x: titleLayout[i].x, y: titleLayout[i].y, silent: true,
  style: { text: t, fill: TXT, font: `${titleLayout[i].fs}px "${FONT}"`, textAlign: 'center', textVerticalAlign: 'middle' } }));
graphics.push({ type: 'text', x: 916, y: 315, silent: true,
  style: { text: '1e10', fill: TXT, font: `17.5px "${FONT}"`, textAlign: 'left', textVerticalAlign: 'middle' } });

const legends = methods.map((m, i) => ({ data: [m], left: legendPos[i][0], top: legendPos[i][1] - 10,
  icon: 'rect', itemWidth: 40, itemHeight: 4, padding: 0, selectedMode: false,
  textStyle: { fontFamily: FONT, fontSize: 18, color: TXT, padding: [0, 0, 0, 8] } }));

const chart = echarts.init(document.getElementById('c'), null, { renderer: 'canvas' });
chart.setOption({
  animation: false, backgroundColor: '#ffffff',
  textStyle: { fontFamily: FONT },
  grid: grids, xAxis: xAxes, yAxis: yAxes, series: series,
  legend: legends, graphic: graphics
});
</script></body></html>
